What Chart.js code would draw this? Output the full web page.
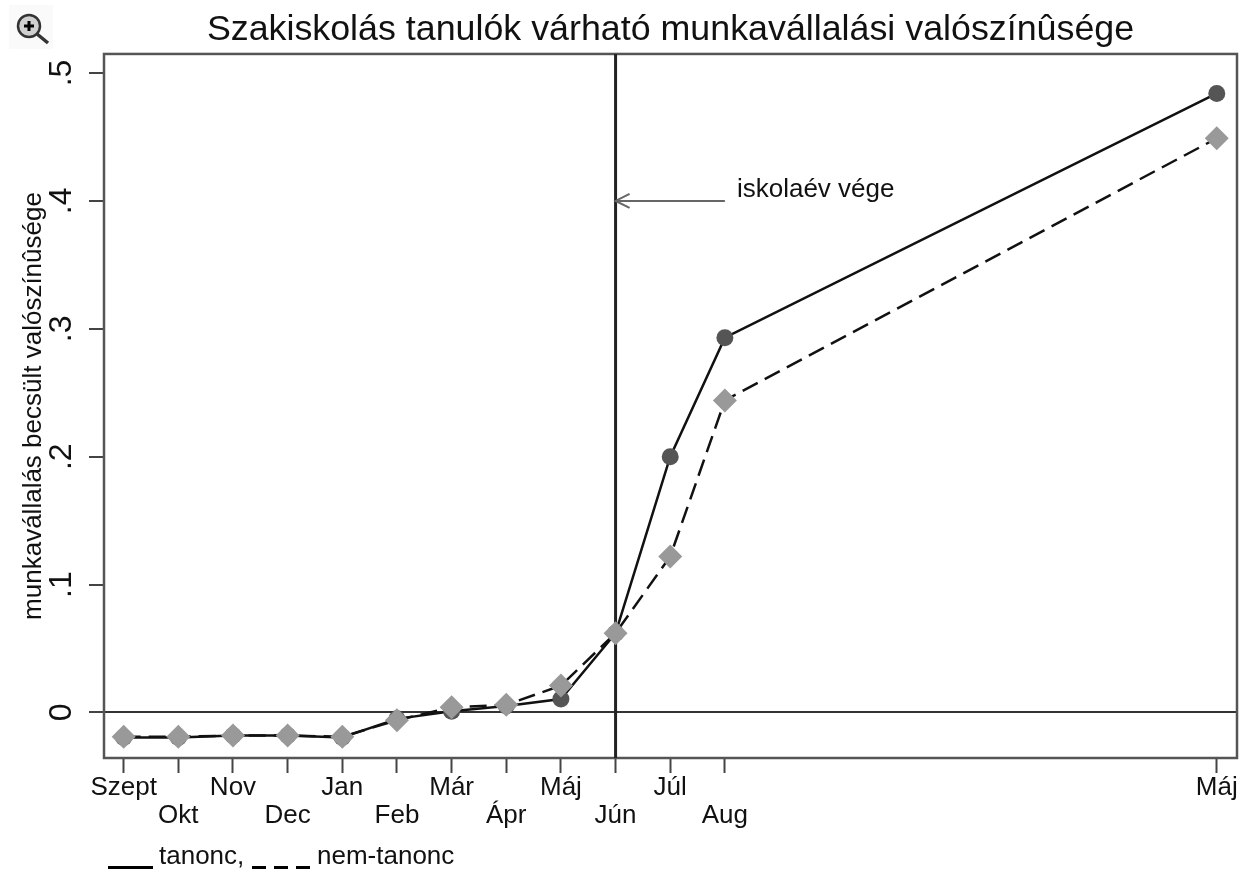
<!DOCTYPE html>
<html lang="hu">
<head>
<meta charset="utf-8">
<style>html,body{margin:0;padding:0;background:#fff;overflow:hidden}canvas{display:block;filter:blur(0.45px)}</style>
<script src="https://cdn.jsdelivr.net/npm/chart.js@4"></script>
</head>
<body>
<canvas id="c" width="1249" height="869"></canvas>
<script>
const monthLabels = ['Szept','Okt','Nov','Dec','Jan','Feb','Már','Ápr','Máj','Jún','Júl','Aug','Máj'];
const monthPositions = [0,1,2,3,4,5,6,7,8,9,10,11,20];
const tanonc = [-0.0195,-0.0195,-0.018,-0.018,-0.0195,-0.005,0.001,0.005,0.0105,0.062,0.2,0.293,0.484];
const nemTanonc = [-0.019,-0.019,-0.018,-0.018,-0.019,-0.006,0.004,0.006,0.021,0.062,0.122,0.244,0.449];
const yTicks = [0,0.1,0.2,0.3,0.4,0.5];
const yTickLabels = ['0','.1','.2','.3','.4','.5'];
const xMin = -0.36, xMax = 20.37, yMin = -0.0356, yMax = 0.5149;
const schoolEndX = 9;
const arrowFrom = [11, 0.4];
const arrowTo = [9, 0.4];
const noteText = 'iskolaév vége';
const noteAt = [11.22, 0.409];
const titleText = 'Szakiskolás tanulók várható munkavállalási valószínûsége';
const yTitle = 'munkavállalás becsült valószínûsége';
const legendNames = ['tanonc,','nem-tanonc'];
const FONT = '"Liberation Sans", Arial, sans-serif';
const INK = '#111';

const toXY = (xs, ys) => xs.map((x, i) => ({x, y: ys[i]}));

const decor = {
  id: 'decor',
  beforeDatasetsDraw(ch) {
    const {ctx, chartArea: a} = ch;
    ctx.save();
    ctx.strokeStyle = '#555';
    ctx.lineWidth = 2.5;
    ctx.strokeRect(a.left, a.top, a.right - a.left, a.bottom - a.top);
    ctx.restore();
  },
  afterDraw(ch) {
    const {ctx, scales: {x, y}} = ch;
    ctx.save();
    // arrow
    const x0 = x.getPixelForValue(arrowFrom[0]), y0 = y.getPixelForValue(arrowFrom[1]);
    const x1 = x.getPixelForValue(arrowTo[0]), y1 = y.getPixelForValue(arrowTo[1]);
    ctx.strokeStyle = '#666';
    ctx.lineWidth = 2;
    ctx.beginPath();
    ctx.moveTo(x0, y0); ctx.lineTo(x1, y1);
    ctx.moveTo(x1 + 14, y1 - 7); ctx.lineTo(x1, y1); ctx.lineTo(x1 + 14, y1 + 7);
    ctx.stroke();
    // note
    ctx.fillStyle = INK;
    ctx.font = '26px ' + FONT;
    ctx.textAlign = 'left';
    ctx.textBaseline = 'middle';
    ctx.fillText(noteText, x.getPixelForValue(noteAt[0]), y.getPixelForValue(noteAt[1]));
    // legend
    ctx.font = '26px ' + FONT;
    ctx.textBaseline = 'alphabetic';
    ctx.fillText(legendNames[0], 159, 864);
    ctx.fillText(legendNames[1], 317, 864);
    ctx.strokeStyle = '#000';
    ctx.lineWidth = 4;
    ctx.beginPath(); ctx.moveTo(108, 868); ctx.lineTo(153, 868); ctx.stroke();
    ctx.setLineDash([14, 8]);
    ctx.beginPath(); ctx.moveTo(252, 868); ctx.lineTo(310, 868); ctx.stroke();
    ctx.setLineDash([]);
    // zoom icon
    ctx.fillStyle = '#fafafa';
    ctx.fillRect(9, 5, 44, 44);
    ctx.strokeStyle = '#333';
    ctx.lineWidth = 2.5;
    ctx.beginPath(); ctx.arc(29, 26, 11, 0, Math.PI * 2);
    ctx.fillStyle = '#d0d0d0'; ctx.fill(); ctx.stroke();
    ctx.lineWidth = 3.5;
    ctx.beginPath(); ctx.moveTo(37, 34); ctx.lineTo(48, 43); ctx.stroke();
    ctx.lineWidth = 3; ctx.strokeStyle = '#000';
    ctx.beginPath(); ctx.moveTo(24, 26); ctx.lineTo(34, 26); ctx.moveTo(29, 21); ctx.lineTo(29, 31); ctx.stroke();
    ctx.restore();
  }
};

new Chart(document.getElementById('c'), {
  type: 'line',
  plugins: [decor],
  data: {
    datasets: [
      {
        label: 'tanonc',
        data: toXY(monthPositions, tanonc),
        borderColor: '#111', borderWidth: 2.5,
        pointStyle: 'circle', pointRadius: 8.5,
        pointBackgroundColor: '#555', pointBorderColor: '#555', pointBorderWidth: 0,
        tension: 0, order: 2
      },
      {
        label: 'nem-tanonc',
        data: toXY(monthPositions, nemTanonc),
        borderColor: '#111', borderWidth: 2.5, borderDash: [17, 8],
        pointStyle: 'rectRot', pointRadius: 12,
        pointBackgroundColor: '#999', pointBorderColor: '#999', pointBorderWidth: 0,
        tension: 0, order: 1
      },
      {
        label: 'iskolaév vége',
        data: [{x: schoolEndX, y: yMin}, {x: schoolEndX, y: yMax}],
        borderColor: '#222', borderWidth: 3, pointRadius: 0, order: 3
      }
    ]
  },
  options: {
    responsive: false,
    animation: false,
    events: [],
    layout: {padding: {left: 0, right: 11, top: 0, bottom: 0}},
    plugins: {
      legend: {display: false},
      tooltip: {enabled: false},
      title: {
        display: true, text: titleText, color: INK, fullSize: false,
        font: {family: FONT, size: 35.8, weight: 'normal', lineHeight: 1.2},
        padding: {top: 9, bottom: 2}
      }
    },
    scales: {
      x: {
        type: 'linear', min: xMin, max: xMax,
        afterBuildTicks: s => { s.ticks = monthPositions.map(v => ({value: v})); },
        afterFit: s => { s.height = 111; },
        border: {display: false},
        grid: {drawOnChartArea: false, tickLength: 15, tickWidth: 2, tickColor: '#444'},
        ticks: {
          autoSkip: false, maxRotation: 0, minRotation: 0, padding: 1, color: INK,
          font: {family: FONT, size: 26, lineHeight: 1.08},
          callback: function (v) {
            const i = monthPositions.indexOf(v);
            if (i < 0) return '';
            return (i % 2 === 0) ? monthLabels[i] : ['', monthLabels[i]];
          }
        }
      },
      y: {
        type: 'linear', min: yMin, max: yMax,
        afterBuildTicks: s => { s.ticks = yTicks.map(v => ({value: v})); },
        afterFit: s => { s.width = 104; },
        border: {display: false},
        title: {
          display: true, text: yTitle, color: INK,
          font: {family: FONT, size: 26, lineHeight: 1.2},
          padding: {top: 18, bottom: 0}
        },
        grid: {
          drawOnChartArea: true, tickLength: 15, tickWidth: 2, tickColor: '#444',
          color: c => c.tick && c.tick.value === 0 ? '#333' : 'rgba(0,0,0,0)', lineWidth: 2
        },
        ticks: {
          minRotation: 90, maxRotation: 90, crossAlign: 'center', padding: 13.5, color: INK,
          font: {family: FONT, size: 32},
          callback: v => { const i = yTicks.indexOf(v); return i < 0 ? '' : yTickLabels[i]; }
        }
      }
    }
  }
});
</script>
</body>
</html>
